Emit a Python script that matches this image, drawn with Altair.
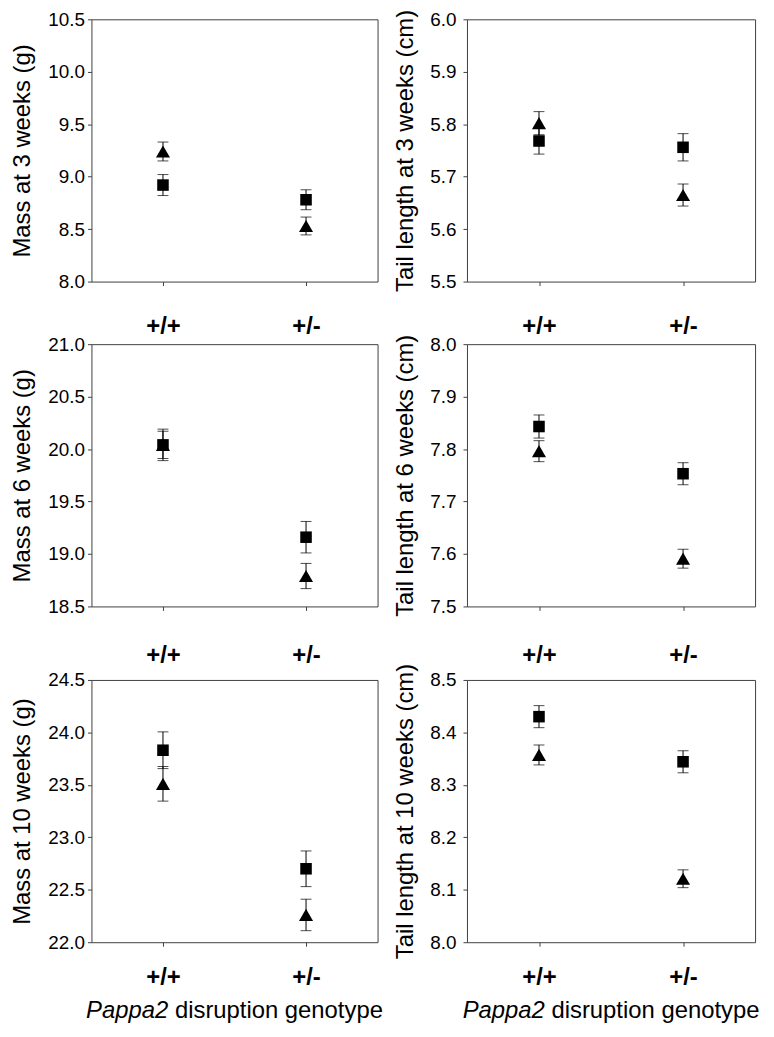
import altair as alt
import pandas as pd

genotypes = ["+/+", "+/-"]

# Mass at 3 weeks
mass3_sq = [8.92, 8.78]
mass3_sq_se = [0.10, 0.095]
mass3_tri = [9.24, 8.53]
mass3_tri_se = [0.09, 0.085]
# Tail length at 3 weeks
tail3_sq = [5.768, 5.756]
tail3_sq_se = [0.025, 0.026]
tail3_tri = [5.802, 5.665]
tail3_tri_se = [0.022, 0.021]
# Mass at 6 weeks
mass6_sq = [20.04, 19.16]
mass6_sq_se = [0.15, 0.15]
mass6_tri = [20.04, 18.79]
mass6_tri_se = [0.13, 0.12]
# Tail length at 6 weeks
tail6_sq = [7.843, 7.753]
tail6_sq_se = [0.022, 0.021]
tail6_tri = [7.796, 7.591]
tail6_tri_se = [0.020, 0.018]
# Mass at 10 weeks
mass10_sq = [23.83, 22.70]
mass10_sq_se = [0.175, 0.17]
mass10_tri = [23.51, 22.26]
mass10_tri_se = [0.165, 0.15]
# Tail length at 10 weeks
tail10_sq = [8.430, 8.344]
tail10_sq_se = [0.021, 0.021]
tail10_tri = [8.357, 8.121]
tail10_tri_se = [0.019, 0.017]

mass3_ticks = [8.0, 8.5, 9.0, 9.5, 10.0, 10.5]
tail3_ticks = [5.5, 5.6, 5.7, 5.8, 5.9, 6.0]
mass6_ticks = [18.5, 19.0, 19.5, 20.0, 20.5, 21.0]
tail6_ticks = [7.5, 7.6, 7.7, 7.8, 7.9, 8.0]
mass10_ticks = [22.0, 22.5, 23.0, 23.5, 24.0, 24.5]
tail10_ticks = [8.0, 8.1, 8.2, 8.3, 8.4, 8.5]

titles = [
    "Mass at 3 weeks (g)", "Tail length at 3 weeks (cm)",
    "Mass at 6 weeks (g)", "Tail length at 6 weeks (cm)",
    "Mass at 10 weeks (g)", "Tail length at 10 weeks (cm)",
]
xtitle_italic = "Pappa2"
xtitle_rest = "disruption genotype"

FONT = "Liberation Sans"
INK = "#000000"
BOX = "#404040"


def make_df(sq, sq_se, tri, tri_se):
    rows = []
    for i, g in enumerate(genotypes):
        rows.append({"genotype": g, "series": "triangle", "value": tri[i],
                     "lo": tri[i] - tri_se[i], "hi": tri[i] + tri_se[i]})
    for i, g in enumerate(genotypes):
        rows.append({"genotype": g, "series": "square", "value": sq[i],
                     "lo": sq[i] - sq_se[i], "hi": sq[i] + sq_se[i]})
    return pd.DataFrame(rows)


def panel(sq, sq_se, tri, tri_se, ticks, title, w, h, xpad, ylabpad, ytitlepad, bottom):
    df = make_df(sq, sq_se, tri, tri_se)
    base = alt.Chart(df)
    xenc = alt.X(
        "genotype:N",
        scale=alt.Scale(type="point", domain=genotypes, padding=0.5),
        axis=alt.Axis(title=None, labelAngle=0, tickSize=4, labelPadding=xpad,
                      labelFontSize=24, labelFontWeight="bold", labelColor=INK,
                      tickColor=BOX, domain=False, grid=False),
    )
    yscale = alt.Scale(domain=[ticks[0], ticks[-1]], nice=False, zero=False)
    yaxis = alt.Axis(values=ticks, format=".1f", tickSize=4, labelPadding=ylabpad,
                     labelFontSize=19, labelColor=INK, tickColor=BOX,
                     titleFontSize=24, titleFontWeight="normal", titleColor=INK,
                     titlePadding=ytitlepad, domain=False, grid=False)
    rules = base.mark_rule(color=INK, strokeWidth=1).encode(
        x=xenc, y=alt.Y("lo:Q", scale=yscale, axis=yaxis, title=title), y2="hi:Q")
    cap_lo = base.mark_tick(orient="horizontal", size=11, thickness=1, color=INK).encode(
        x=xenc, y=alt.Y("lo:Q", scale=yscale))
    cap_hi = base.mark_tick(orient="horizontal", size=11, thickness=1, color=INK).encode(
        x=xenc, y=alt.Y("hi:Q", scale=yscale))
    pts = base.mark_point(filled=True, opacity=1, color=INK, strokeWidth=0).encode(
        x=xenc,
        y=alt.Y("value:Q", scale=yscale),
        shape=alt.Shape("series:N", scale=alt.Scale(domain=["square", "triangle"],
                                                     range=["square", "triangle-up"]),
                        legend=None),
        size=alt.Size("series:N", scale=alt.Scale(domain=["square", "triangle"],
                                                   range=[135, 200]),
                      legend=None),
    )
    layers = [rules, cap_lo, cap_hi, pts]
    if bottom:
        one = pd.DataFrame({"k": [0]})
        half = 12.45 * 24 / 2
        xr = w / 2 - half + 3.447 * 24
        t1 = alt.Chart(one).mark_text(text=xtitle_italic, fontStyle="italic", fontSize=24,
                                      align="right", baseline="alphabetic", color=INK,
                                      font=FONT).encode(
            x=alt.value(xr), y=alt.value(h + 76))
        t2 = alt.Chart(one).mark_text(text=xtitle_rest, fontSize=24, align="left",
                                      baseline="alphabetic", color=INK, font=FONT).encode(
            x=alt.value(xr + 6.7), y=alt.value(h + 76))
        layers += [t1, t2]
    return alt.layer(*layers).properties(width=w, height=h)


H = 264
p1 = panel(mass3_sq, mass3_sq_se, mass3_tri, mass3_tri_se, mass3_ticks, titles[0], 288, H, 29, 3, 13, False)
p2 = panel(tail3_sq, tail3_sq_se, tail3_tri, tail3_tri_se, tail3_ticks, titles[1], 290, H, 29, 7, 12, False)
p3 = panel(mass6_sq, mass6_sq_se, mass6_tri, mass6_tri_se, mass6_ticks, titles[2], 288, H, 33, 3, 13, False)
p4 = panel(tail6_sq, tail6_sq_se, tail6_tri, tail6_tri_se, tail6_ticks, titles[3], 290, H, 33, 7, 12, False)
p5 = panel(mass10_sq, mass10_sq_se, mass10_tri, mass10_tri_se, mass10_ticks, titles[4], 288, H, 20, 3, 13, True)
p6 = panel(tail10_sq, tail10_sq_se, tail10_tri, tail10_tri_se, tail10_ticks, titles[5], 290, H, 20, 7, 12, True)

chart = alt.concat(
    p1, p2, p3, p4, p5, p6,
    columns=2,
    spacing={"row": -6, "column": 9},
    align="each",
    bounds="full",
).properties(
    padding={"left": 2, "top": -3, "right": 5, "bottom": 5},
    background="white",
).configure(font=FONT).configure_view(stroke=BOX, strokeWidth=1)

chart.save("out.html", embed_options={"renderer": "svg", "actions": False})
